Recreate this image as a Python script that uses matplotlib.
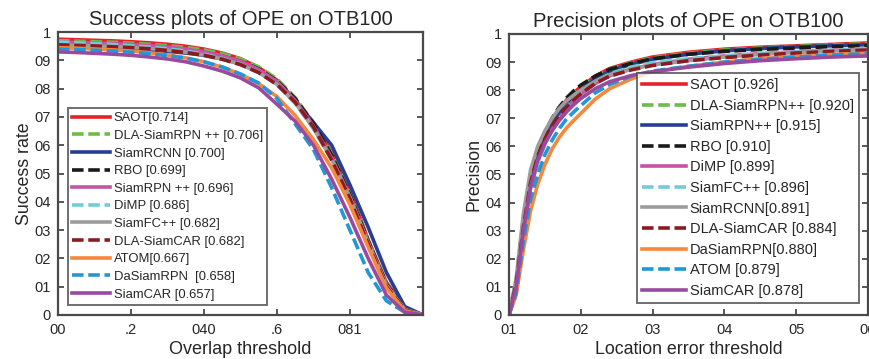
#!/usr/bin/env python3
"""Success / precision plots of OPE on OTB100 (two panels)."""

import matplotlib
matplotlib.use('Agg')
import matplotlib.pyplot as plt

plt.rcParams['font.family'] = ['Liberation Sans', 'DejaVu Sans']

# ---- data -----------------------------------------------------------------
succ_x = [0, .05, .1, .15, .2, .25, .3, .35, .4, .45, .5,
          .55, .6, .65, .7, .75, .8, .85, .9, .95, 1.0]

succ_names = ['SAOT[0.714]', 'DLA-SiamRPN ++ [0.706]', 'SiamRCNN [0.700]',
              'RBO [0.699]', 'SiamRPN ++ [0.696]', 'DiMP [0.686]',
              'SiamFC++ [0.682]', 'DLA-SiamCAR [0.682]', 'ATOM[0.667]',
              'DaSiamRPN  [0.658]', 'SiamCAR [0.657]']

succ_saot = [.975, .973, .971, .969, .966, .962, .957, .950, .940, .926, .906,
             .875, .830, .760, .680, .575, .440, .265, .115, .025, 0]
succ_dla_rpn = [.970, .968, .966, .964, .961, .957, .952, .946, .937, .924, .905,
                .877, .835, .768, .680, .570, .430, .262, .110, .022, 0]
succ_siamrcnn = [.950, .948, .946, .944, .941, .937, .932, .926, .918, .905, .888,
                 .862, .822, .755, .680, .600, .460, .310, .150, .030, 0]
succ_rbo = [.960, .958, .956, .954, .951, .947, .942, .936, .928, .915, .897,
            .870, .828, .765, .676, .565, .425, .262, .110, .020, 0]
succ_siamrpn = [.965, .963, .961, .959, .956, .952, .947, .940, .930, .916, .897,
                .868, .825, .758, .668, .555, .418, .255, .105, .018, 0]
succ_dimp = [.965, .962, .959, .956, .952, .947, .941, .933, .922, .907, .887,
             .858, .815, .748, .658, .548, .410, .250, .100, .018, 0]
succ_siamfc = [.955, .953, .951, .949, .946, .942, .936, .929, .919, .905, .886,
               .857, .815, .750, .660, .550, .415, .255, .105, .020, 0]
succ_dla_car = [.955, .953, .951, .948, .945, .941, .935, .928, .918, .904, .885,
                .857, .815, .752, .665, .548, .410, .250, .100, .018, 0]
succ_atom = [.945, .943, .940, .937, .933, .927, .919, .909, .895, .876, .851,
             .818, .772, .705, .620, .520, .390, .240, .095, .015, 0]
succ_dasiam = [.940, .938, .936, .933, .929, .924, .917, .908, .895, .877, .852,
               .820, .765, .675, .585, .450, .300, .150, .050, .010, 0]
succ_siamcar = [.930, .928, .925, .922, .918, .912, .905, .895, .880, .862, .838,
                .803, .745, .685, .600, .480, .345, .200, .070, .010, 0]

succ_series = [succ_saot, succ_dla_rpn, succ_siamrcnn, succ_rbo, succ_siamrpn,
               succ_dimp, succ_siamfc, succ_dla_car, succ_atom, succ_dasiam,
               succ_siamcar]

prec_x = [0, 1, 2, 3, 4, 5, 6, 7, 8, 9, 10, 12, 14, 17, 20, 25, 30, 35, 40, 45, 50]

prec_names = ['SAOT [0.926]', 'DLA-SiamRPN++ [0.920]', 'SiamRPN++ [0.915]',
              'RBO [0.910]', 'DiMP [0.899]', 'SiamFC++ [0.896]',
              'SiamRCNN[0.891]', 'DLA-SiamCAR [0.884]', 'DaSiamRPN[0.880]',
              'ATOM [0.879]', 'SiamCAR [0.878]']

prec_saot = [0, .11, .32, .48, .575, .64, .69, .73, .765, .79, .812,
             .850, .877, .900, .918, .935, .946, .953, .958, .963, .968]
prec_dla_rpn = [0, .11, .32, .48, .575, .64, .69, .73, .765, .79, .81,
                .848, .874, .897, .915, .932, .943, .950, .956, .961, .965]
prec_siamrpn = [0, .10, .30, .46, .555, .62, .675, .718, .752, .778, .80,
                .840, .867, .892, .910, .928, .940, .948, .954, .958, .962]
prec_rbo = [0, .12, .34, .50, .59, .65, .70, .74, .772, .797, .818,
            .850, .874, .895, .912, .928, .938, .945, .950, .955, .958]
prec_dimp = [0, .10, .29, .45, .545, .61, .66, .70, .735, .762, .785,
             .823, .851, .875, .892, .910, .922, .930, .937, .942, .947]
prec_siamfc = [0, .10, .29, .445, .54, .605, .66, .70, .74, .767, .79,
               .83, .858, .882, .898, .912, .922, .930, .936, .942, .948]
prec_siamrcnn = [0, .13, .36, .515, .60, .655, .70, .735, .762, .782, .80,
                 .832, .855, .875, .89, .905, .918, .927, .934, .940, .945]
prec_dla_car = [0, .11, .31, .47, .565, .625, .672, .71, .74, .765, .787,
                .824, .85, .872, .888, .905, .916, .925, .932, .938, .943]
prec_dasiam = [0, .07, .23, .37, .465, .535, .59, .632, .665, .692, .717,
               .768, .805, .84, .865, .885, .90, .912, .92, .927, .932]
prec_atom = [0, .08, .26, .41, .50, .57, .622, .663, .697, .722, .745,
             .79, .82, .85, .868, .885, .90, .91, .918, .925, .93]
prec_siamcar = [0, .10, .30, .455, .55, .61, .655, .692, .722, .748, .77,
                .805, .83, .852, .866, .882, .895, .905, .912, .918, .922]

prec_series = [prec_saot, prec_dla_rpn, prec_siamrpn, prec_rbo, prec_dimp,
               prec_siamfc, prec_siamrcnn, prec_dla_car, prec_dasiam,
               prec_atom, prec_siamcar]

y_ticks = [0, .1, .2, .3, .4, .5, .6, .7, .8, .9, 1]
y_ticklabels = ['0', '01', '02', '03', '04', '05', '06', '07', '08', '09', '1']
succ_xticks = [0, .2, .4, .6, .8]
succ_xticklabels = ['00', '.2', '040', '.6', '081']
prec_xticks = [0, 10, 20, 30, 40, 50]
prec_xticklabels = ['01', '02', '03', '04', '05', '06']

# styles by legend position (same in both panels)
colors = ['#e8202a', '#6cbd45', '#263f95', '#1a1a1a', '#c553a6', '#72ccd8',
          '#9c9c9c', '#8a1b20', '#f5883a', '#1f98d5', '#9a4a9e']
dash = (0, (3.2, 1.3))
styles = ['-', dash, '-', dash, '-', dash, '-', dash, '-', dash, '-']

TXT = '#262626'
EDGE = '#4a4a4a'


def style_axes(ax):
    for s in ax.spines.values():
        s.set_color(EDGE)
        s.set_linewidth(1.6)
    ax.tick_params(direction='in', length=4, width=1.3, color=EDGE,
                   top=True, right=True, labelsize=10.5, labelcolor=TXT)
    ax.tick_params(axis='x', pad=6)
    ax.tick_params(axis='y', pad=5)
    ax.set_ylim(0, 1)
    ax.set_yticks(y_ticks)
    ax.set_yticklabels(y_ticklabels)


fig = plt.figure(figsize=(8.69, 3.59), dpi=100)

# ---- success panel ----------------------------------------------------------
ax1 = fig.add_axes([0.0667, 0.1226, 0.420, 0.788])
for vals, name, c, ls in zip(succ_series, succ_names, colors, styles):
    ax1.plot(succ_x, vals, color=c, linestyle=ls, linewidth=2.6, label=name)
ax1.set_xlim(0, 1)
style_axes(ax1)
ax1.set_xticks(succ_xticks)
ax1.set_xticklabels(succ_xticklabels)
ax1.set_xlabel('Overlap threshold', fontsize=13, color=TXT, labelpad=3)
ax1.set_ylabel('Success rate', fontsize=12.8, color=TXT, labelpad=1)
ax1.set_title('Success plots of OPE on OTB100', fontsize=14.5, color=TXT, pad=5)
leg1 = ax1.legend(loc='lower left', bbox_to_anchor=(0.027, 0.035), fontsize=9.4,
                  frameon=True, fancybox=False, edgecolor=EDGE, borderpad=0.35,
                  labelspacing=0.42, handlelength=2.9, handletextpad=0.25,
                  borderaxespad=0)
leg1.get_frame().set_linewidth(1.4)
for t in leg1.get_texts():
    t.set_color(TXT)

# ---- precision panel --------------------------------------------------------
ax2 = fig.add_axes([0.5857, 0.1226, 0.4131, 0.7827])
for vals, name, c, ls in zip(prec_series, prec_names, colors, styles):
    ax2.plot(prec_x, vals, color=c, linestyle=ls, linewidth=2.6, label=name)
ax2.set_xlim(0, 50)
style_axes(ax2)
ax2.set_xticks(prec_xticks)
ax2.set_xticklabels(prec_xticklabels)
ax2.set_xlabel('Location error threshold', fontsize=12.8, color=TXT, labelpad=3)
ax2.set_ylabel('Precision', fontsize=12.8, color=TXT, labelpad=2)
ax2.set_title('Precision plots of OPE on OTB100', fontsize=14.5, color=TXT, pad=5)
leg2 = ax2.legend(loc='lower left', bbox_to_anchor=(0.357, 0.043), fontsize=10.5,
                  frameon=True, fancybox=False, edgecolor=EDGE, borderpad=0.35,
                  labelspacing=0.45, handlelength=3.0, handletextpad=0.25,
                  borderaxespad=0)
leg2.get_frame().set_linewidth(1.4)
for t in leg2.get_texts():
    t.set_color(TXT)

fig.savefig('out.png', dpi=100)
